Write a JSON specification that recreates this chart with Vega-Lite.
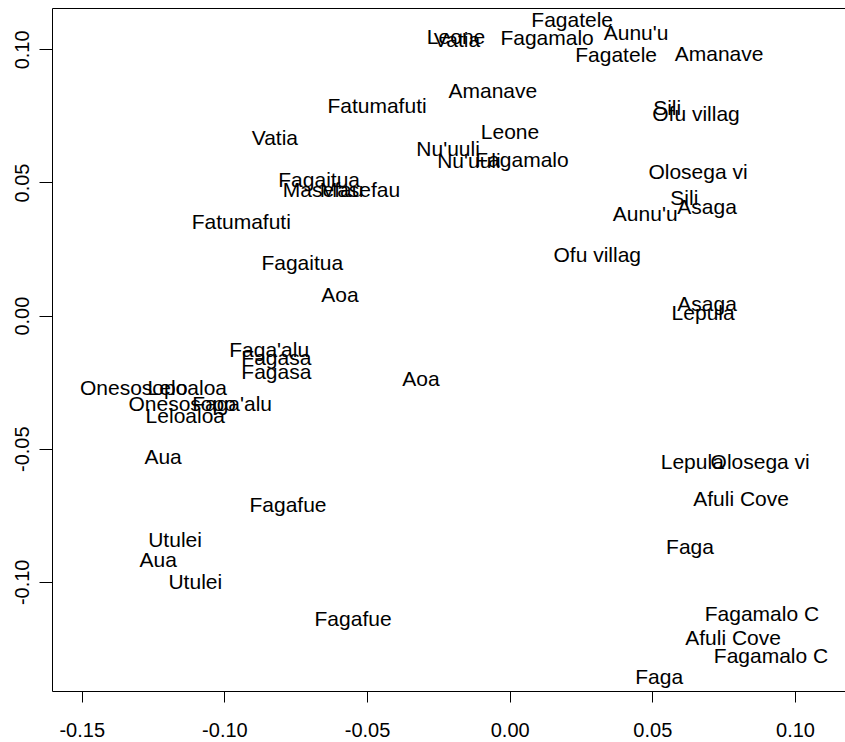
{
  "$schema": "https://vega.github.io/schema/vega-lite/v6.json",
  "autosize": {"type": "none"},
  "padding": {"left": 52, "top": 8, "right": 0, "bottom": 51},
  "width": 793,
  "height": 683,
  "background": "white",
  "config": {
    "view": {"stroke": null},
    "axis": {
      "domainColor": "black", "domainWidth": 1, "tickColor": "black", "tickWidth": 1,
      "labelColor": "black", "labelFont": "Liberation Sans", "labelFontSize": 20,
      "grid": false, "title": null
    }
  },
  "data": {"values": [
    {"site": "Fagatele", "x": 0.0219, "y": 0.1107},
    {"site": "Aunu'u", "x": 0.0443, "y": 0.1058},
    {"site": "Leone", "x": -0.0188, "y": 0.1043},
    {"site": "Vatia", "x": -0.0185, "y": 0.1032},
    {"site": "Fagamalo", "x": 0.0131, "y": 0.1040},
    {"site": "Fagatele", "x": 0.0373, "y": 0.0975},
    {"site": "Amanave", "x": 0.0734, "y": 0.0979},
    {"site": "Amanave", "x": -0.0059, "y": 0.0840},
    {"site": "Fatumafuti", "x": -0.0465, "y": 0.0784},
    {"site": "Sili", "x": 0.0552, "y": 0.0776},
    {"site": "Ofu villag", "x": 0.0653, "y": 0.0753},
    {"site": "Leone", "x": 0.0001, "y": 0.0686},
    {"site": "Vatia", "x": -0.0823, "y": 0.0663},
    {"site": "Nu'uuli", "x": -0.0216, "y": 0.0622},
    {"site": "Nu'uuli", "x": -0.0143, "y": 0.0577},
    {"site": "Fagamalo", "x": 0.0043, "y": 0.0581},
    {"site": "Olosega vi", "x": 0.0660, "y": 0.0536},
    {"site": "Fagaitua", "x": -0.0668, "y": 0.0506},
    {"site": "Masefau", "x": -0.0654, "y": 0.0468},
    {"site": "Masefau", "x": -0.0525, "y": 0.0468},
    {"site": "Fatumafuti", "x": -0.0941, "y": 0.0348},
    {"site": "Sili", "x": 0.0612, "y": 0.0438},
    {"site": "Asaga", "x": 0.0692, "y": 0.0404},
    {"site": "Aunu'u", "x": 0.0475, "y": 0.0378},
    {"site": "Ofu villag", "x": 0.0307, "y": 0.0224},
    {"site": "Fagaitua", "x": -0.0727, "y": 0.0194},
    {"site": "Aoa", "x": -0.0595, "y": 0.0074},
    {"site": "Asaga", "x": 0.0692, "y": 0.0040},
    {"site": "Lepula", "x": 0.0678, "y": 0.0006},
    {"site": "Faga'alu", "x": -0.0843, "y": -0.0133},
    {"site": "Fagasa", "x": -0.0818, "y": -0.0163},
    {"site": "Fagasa", "x": -0.0818, "y": -0.0216},
    {"site": "Aoa", "x": -0.0311, "y": -0.0242},
    {"site": "Onesosopo", "x": -0.1318, "y": -0.0276},
    {"site": "Leloaloa", "x": -0.1130, "y": -0.0276},
    {"site": "Onesosopo", "x": -0.1148, "y": -0.0336},
    {"site": "Faga'alu", "x": -0.0973, "y": -0.0336},
    {"site": "Leloaloa", "x": -0.1137, "y": -0.0381},
    {"site": "Aua", "x": -0.1215, "y": -0.0535},
    {"site": "Fagafue", "x": -0.0777, "y": -0.0716},
    {"site": "Utulei", "x": -0.1173, "y": -0.0847},
    {"site": "Aua", "x": -0.1232, "y": -0.0922},
    {"site": "Utulei", "x": -0.1102, "y": -0.1004},
    {"site": "Fagafue", "x": -0.0549, "y": -0.1143},
    {"site": "Lepula", "x": 0.0640, "y": -0.0554},
    {"site": "Olosega vi", "x": 0.0878, "y": -0.0554},
    {"site": "Afuli Cove", "x": 0.0811, "y": -0.0693},
    {"site": "Faga", "x": 0.0632, "y": -0.0873},
    {"site": "Fagamalo C", "x": 0.0884, "y": -0.1125},
    {"site": "Afuli Cove", "x": 0.0783, "y": -0.1215},
    {"site": "Fagamalo C", "x": 0.0916, "y": -0.1283},
    {"site": "Faga", "x": 0.0524, "y": -0.1361}
  ]},
  "layer": [
    {
      "mark": {"type": "text", "font": "Liberation Sans", "fontSize": 21, "color": "black", "align": "center", "baseline": "middle", "clip": false},
      "encoding": {
        "x": {"field": "x", "type": "quantitative",
              "scale": {"domain": [-0.16043, 0.11753], "nice": false, "zero": false},
              "axis": {"orient": "bottom", "values": [-0.15, -0.1, -0.05, 0, 0.05, 0.1],
                       "labelExpr": "replace(format(datum.value, '.2f'), '\u2212', '-')",
                       "tickSize": 11, "labelPadding": 18, "labelFlush": false, "labelOverlap": false}},
        "y": {"field": "y", "type": "quantitative",
              "scale": {"domain": [-0.14102, 0.11555], "nice": false, "zero": false},
              "axis": {"orient": "left", "values": [-0.1, -0.05, 0, 0.05, 0.1],
                       "labelExpr": "replace(format(datum.value, '.2f'), '\u2212', '-')",
                       "tickSize": 13, "labelAngle": -90, "labelAlign": "center", "labelBaseline": "alphabetic",
                       "labelPadding": 11, "labelFlush": false, "labelOverlap": false}},
        "text": {"field": "site", "type": "nominal"}
      }
    },
    {
      "mark": {"type": "text", "opacity": 0},
      "encoding": {
        "x": {"field": "x", "type": "quantitative",
              "axis": {"orient": "top", "labels": false, "ticks": false}},
        "y": {"field": "y", "type": "quantitative",
              "axis": {"orient": "left", "values": [-0.1, -0.05, 0, 0.05, 0.1],
                       "labelExpr": "replace(format(datum.value, '.2f'), '\u2212', '-')",
                       "tickSize": 13, "labelAngle": -90, "labelAlign": "center", "labelBaseline": "alphabetic",
                       "labelPadding": 11, "labelFlush": false, "labelOverlap": false}},
        "text": {"field": "site", "type": "nominal"}
      }
    }
  ]
}
